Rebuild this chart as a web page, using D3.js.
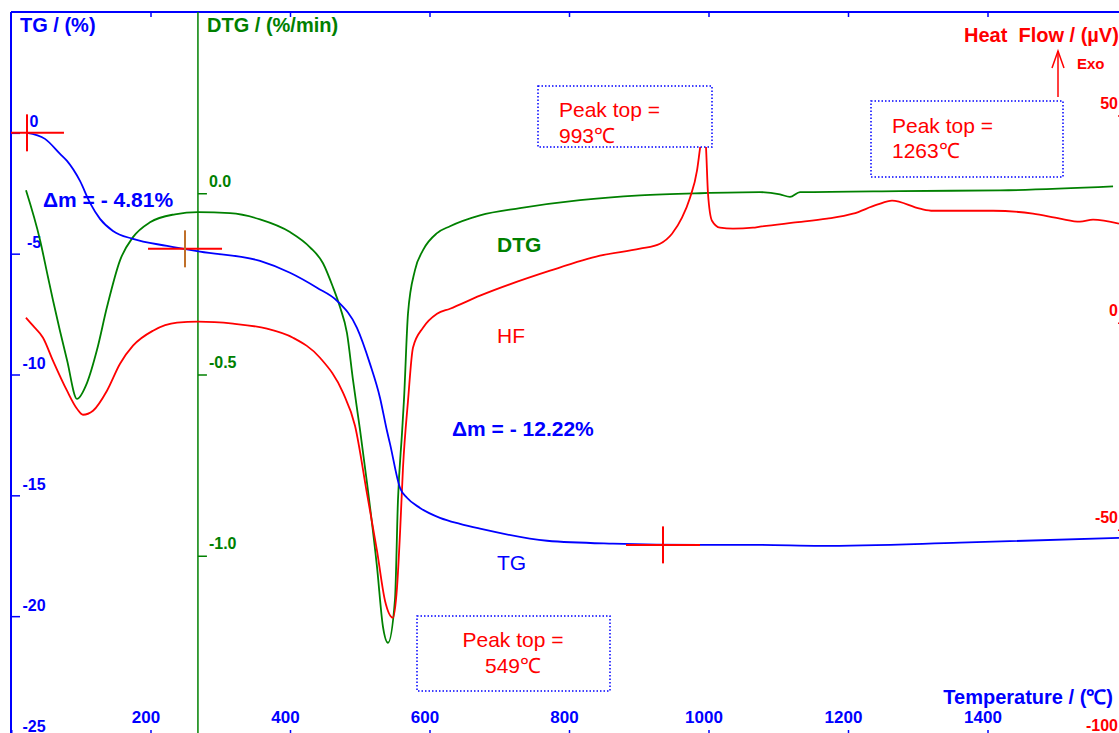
<!DOCTYPE html>
<html>
<head>
<meta charset="utf-8">
<script src="https://cdn.jsdelivr.net/npm/d3@7"></script>
<style>
  html, body { margin: 0; padding: 0; background: #fff; }
  svg { display: block; font-family: "Liberation Sans", Arial, sans-serif; }
</style>
</head>
<body>
<svg id="chart" width="1119" height="733"></svg>
<script>
// ---------- data ----------
const tgTemp = [22.9, 48.7, 70.3, 80.3, 98.9, 113.3, 127.6, 146.2, 174.9, 223.7, 271, 357, 400, 438.7, 467.4, 496, 514.7, 529, 539, 543.4, 557.7, 567.7, 586.4, 615, 643.7, 672.4, 768.5, 863, 987.8, 1073.8, 1159.9, 1360.6, 1588.5];
const tgValue = [0, -0.25, -0.87, -1.16, -1.99, -2.90, -3.56, -4.06, -4.39, -4.68, -4.92, -5.30, -5.79, -6.41, -6.95, -8.07, -9.56, -10.96, -12.33, -12.87, -14.69, -15.10, -15.52, -15.93, -16.18, -16.38, -16.88, -17.00, -17.05, -17.05, -17.09, -16.96, -16.76];

const dtgTemp = [21.5, 41.6, 53, 60.2, 80.3, 94.6, 109, 123.3, 137.6, 156.3, 174.9, 199.3, 235.1, 268.1, 314, 357, 400, 428.7, 447.3, 461.6, 471.7, 481.7, 490.3, 500.4, 510.4, 524.7, 533.3, 540.5, 550.5, 554.8, 560.6, 563.4, 569.2, 579.2, 590.7, 610.8, 629.4, 672.4, 729.7, 815.8, 901.8, 987.8, 1073.8, 1102.5, 1116.8, 1131.2, 1274.6, 1417.9, 1580];
const dtgValue = [0.008, -0.129, -0.231, -0.295, -0.46, -0.567, -0.523, -0.432, -0.314, -0.185, -0.121, -0.080, -0.058, -0.052, -0.055, -0.072, -0.107, -0.149, -0.193, -0.259, -0.314, -0.386, -0.515, -0.653, -0.799, -1.030, -1.196, -1.240, -1.121, -0.846, -0.661, -0.570, -0.331, -0.212, -0.157, -0.110, -0.091, -0.061, -0.041, -0.019, -0.006, 0.0, 0.003, -0.003, -0.010, 0.003, 0.006, 0.008, 0.019];

const hfTemp = [21.5, 31.5, 45.9, 60.2, 80.3, 94.6, 103.2, 117.6, 137.6, 156.3, 174.9, 203.6, 238, 268.1, 318.3, 367, 404.3, 443, 476, 493.2, 510.4, 524.7, 536.2, 547.7, 553.4, 557.7, 562, 569.2, 576.3, 590.7, 610.8, 629.4, 672.4, 772.8, 844.4, 901.8, 930.5, 947.7, 962, 973.5, 983.5, 987.8, 993.5, 996.4, 999.3, 1005, 1016.5, 1035.1, 1063.8, 1073.8, 1121.1, 1169.9, 1207.2, 1241.6, 1263.1, 1303.2, 1321.9, 1407.9, 1465.2, 1504, 1532.6, 1551.3, 1588.5];
const hfValue = [1.21, -0.72, -3.62, -9.17, -16.41, -20.76, -22.21, -21.24, -16.41, -9.9, -5.55, -1.93, 0, 0.24, -0.24, -1.45, -3.62, -8.45, -16.9, -24.86, -41.27, -55.03, -67.1, -71.2, -63.96, -50.93, -35.0, -18.83, -6.03, -1.21, 2.17, 3.38, 6.52, 12.55, 16.17, 17.86, 19.07, 21.48, 25.34, 30.17, 36.69, 42.0, 48.76, 42.48, 31.14, 24.62, 22.93, 22.69, 22.93, 23.17, 24.14, 25.1, 26.31, 28.48, 29.45, 27.52, 27.03, 27.03, 26.31, 25.1, 24.38, 24.86, 23.9];

const tempTicks = [200, 400, 600, 800, 1000, 1200, 1400];
const tgTicks = [0, -5, -10, -15, -20, -25];
const dtgTicks = [0.0, -0.5, -1.0];
const hfTicks = [50, 0, -50, -100];

// step marks (crosses) on the TG curve: [temperature, TG]
const crossTemp = [22.9, 249.5, 934.8];
const crossTG = [0, -4.80, -17.05];

const peakLabels = ["993℃", "1263℃", "549℃"];
const massLabels = ["Δm = - 4.81%", "Δm = - 12.22%"];

// ---------- layout ----------
const W = 1119, H = 733;
const L = 11, R = 1127, T = 12, B = 737;
const BLUE = "#0000ff", GREEN = "#008000", RED = "#ff0000";
const FONT = "Liberation Sans, Arial, sans-serif";

const svg = d3.select("#chart");
svg.append("rect").attr("width", W).attr("height", H).attr("fill", "#fff");

const x = d3.scaleLinear().domain([0, 1600]).range([L, R]);
const yTG = d3.scaleLinear().domain([-25, 5]).range([B, T]);
const yDTG = d3.scaleLinear().domain([-1.5, 0.5]).range([B, T]);
const yHF = d3.scaleLinear().domain([-100, 75]).range([B, T]);
const dtgAxisTemp = 268;

const fmtInt = d => String(d);
const fmt1 = d => d.toFixed(1);

svg.append("defs").append("clipPath").attr("id", "plot")
  .append("rect").attr("x", L).attr("y", T).attr("width", R - L).attr("height", B - T);

// frame: top line
svg.append("line").attr("x1", L).attr("x2", R).attr("y1", T).attr("y2", T)
  .attr("stroke", BLUE).attr("stroke-width", 2);

// top ticks
svg.append("g").attr("transform", `translate(0,${T})`)
  .call(d3.axisBottom(x).tickValues(tempTicks).tickSize(5).tickFormat(""))
  .call(g => g.select(".domain").remove())
  .call(g => g.selectAll("line").attr("stroke", BLUE).attr("stroke-width", 1.5));

// bottom axis
svg.append("g").attr("transform", `translate(0,${B})`)
  .call(d3.axisTop(x).tickValues(tempTicks).tickSize(7).tickFormat(fmtInt))
  .call(g => g.select(".domain").attr("stroke", BLUE).attr("stroke-width", 2))
  .call(g => g.selectAll("line").attr("stroke", BLUE).attr("stroke-width", 1.5))
  .call(g => g.selectAll("text").attr("fill", BLUE).attr("font-size", 17).attr("font-weight", "bold")
     .attr("font-family", FONT)
     .attr("y", -14).attr("dy", 0).attr("dx", -5).attr("text-anchor", "middle"));

// left TG axis
svg.append("g").attr("transform", `translate(${L},0)`)
  .call(d3.axisRight(yTG).tickValues(tgTicks).tickSize(9).tickFormat(fmtInt))
  .call(g => g.select(".domain").attr("stroke", BLUE).attr("stroke-width", 2).attr("d", `M0,${T}V${B}`))
  .call(g => g.selectAll("line").attr("stroke", BLUE).attr("stroke-width", 1.5))
  .call(g => g.selectAll("text").attr("fill", BLUE).attr("font-size", 16).attr("font-weight", "bold")
     .attr("font-family", FONT)
     .attr("x", 23).attr("y", -6).attr("dy", 0).attr("text-anchor", "middle"));

// DTG axis
svg.append("g").attr("transform", `translate(${x(dtgAxisTemp)},0)`)
  .call(d3.axisRight(yDTG).tickValues(dtgTicks).tickSize(9).tickFormat(fmt1))
  .call(g => g.select(".domain").attr("stroke", GREEN).attr("stroke-width", 1.5).attr("d", `M0,${T}V${B}`))
  .call(g => g.selectAll("line").attr("stroke", GREEN).attr("stroke-width", 1.5))
  .call(g => g.selectAll("text").attr("fill", GREEN).attr("font-size", 16).attr("font-weight", "bold")
     .attr("font-family", FONT)
     .attr("x", 11).attr("y", -7).attr("dy", 0).attr("text-anchor", "start"));

// HF axis (right, partly outside the frame)
svg.append("g").attr("transform", `translate(${R},0)`)
  .call(d3.axisLeft(yHF).tickValues(hfTicks).tickSize(9).tickFormat(fmtInt))
  .call(g => g.select(".domain").attr("stroke", RED).attr("stroke-width", 1.5).attr("d", `M0,${T}V${B}`))
  .call(g => g.selectAll("line").attr("stroke", RED).attr("stroke-width", 1.5))
  .call(g => g.selectAll("text").attr("fill", RED).attr("font-size", 16).attr("font-weight", "bold")
     .attr("font-family", FONT)
     .attr("x", -9).attr("y", -7).attr("dy", 0).attr("text-anchor", "end"));

// ---------- curves ----------
const plot = svg.append("g").attr("clip-path", "url(#plot)");
function series(ts, vs) { return ts.map((t, i) => [t, vs[i]]); }

const lineTG = d3.line().x(d => x(d[0])).y(d => yTG(d[1])).curve(d3.curveMonotoneX);
const lineDTG = d3.line().x(d => x(d[0])).y(d => yDTG(d[1])).curve(d3.curveMonotoneX);
const lineHF = d3.line().x(d => x(d[0])).y(d => yHF(d[1])).curve(d3.curveMonotoneX);

plot.append("path").attr("d", lineDTG(series(dtgTemp, dtgValue)))
  .attr("fill", "none").attr("stroke", GREEN).attr("stroke-width", 1.8);
plot.append("path").attr("d", lineHF(series(hfTemp, hfValue)))
  .attr("fill", "none").attr("stroke", RED).attr("stroke-width", 1.8);
plot.append("path").attr("d", lineTG(series(tgTemp, tgValue)))
  .attr("fill", "none").attr("stroke", BLUE).attr("stroke-width", 1.8);

// crosses
crossTemp.forEach((t, i) => {
  const cx = x(t), cy = yTG(crossTG[i]);
  plot.append("line").attr("x1", cx - 37).attr("x2", cx + 37).attr("y1", cy).attr("y2", cy)
    .attr("stroke", RED).attr("stroke-width", 2);
  plot.append("line").attr("x1", cx).attr("x2", cx).attr("y1", cy - 18.5).attr("y2", cy + 18.5)
    .attr("stroke", i === 1 ? "#c0702a" : RED).attr("stroke-width", 2);
});

// ---------- peak boxes ----------
const boxes = [
  { x: 538, y: 86, w: 174, h: 61, tx: 559, anchor: "start", l1: 117, l2: 143 },
  { x: 871, y: 101, w: 192, h: 76, tx: 892, anchor: "start", l1: 133, l2: 158 },
  { x: 417, y: 616, w: 193, h: 75, tx: 513, anchor: "middle", l1: 647, l2: 673 }
];
boxes.forEach((b, i) => {
  svg.append("rect").attr("x", b.x).attr("y", b.y).attr("width", b.w).attr("height", b.h)
    .attr("fill", "#fff").attr("stroke", BLUE).attr("stroke-width", 1.5)
    .attr("stroke-dasharray", "1.5,2");
  svg.append("text").attr("x", b.tx).attr("y", b.l1).attr("text-anchor", b.anchor)
    .attr("fill", RED).attr("font-size", 21).text("Peak top =");
  svg.append("text").attr("x", b.tx).attr("y", b.l2).attr("text-anchor", b.anchor)
    .attr("fill", RED).attr("font-size", 21).text(peakLabels[i]);
});

// ---------- texts ----------
svg.append("text").attr("x", 20).attr("y", 32).attr("fill", BLUE).attr("font-size", 20)
  .attr("font-weight", "bold").text("TG / (%)");
svg.append("text").attr("x", 207).attr("y", 32).attr("fill", GREEN).attr("font-size", 20)
  .attr("font-weight", "bold").text("DTG / (%/min)");
svg.append("text").attr("x", 964).attr("y", 42).attr("fill", RED).attr("font-size", 20)
  .attr("font-weight", "bold").style("white-space", "pre")
  .text("Heat  Flow / (µV)");
svg.append("text").attr("x", 1077).attr("y", 69).attr("fill", RED).attr("font-size", 15)
  .attr("font-weight", "bold").text("Exo");
// exo arrow
svg.append("line").attr("x1", 1058).attr("x2", 1058).attr("y1", 97).attr("y2", 51)
  .attr("stroke", RED).attr("stroke-width", 1.5);
svg.append("path").attr("d", "M1052,68L1058,51L1064,68").attr("fill", "none")
  .attr("stroke", RED).attr("stroke-width", 1.5);

svg.append("text").attr("x", 1113).attr("y", 704).attr("text-anchor", "end").attr("fill", BLUE)
  .attr("font-size", 20).attr("font-weight", "bold").text("Temperature / (℃)");

svg.append("text").attr("x", 43).attr("y", 207).attr("fill", BLUE).attr("font-size", 21)
  .attr("font-weight", "bold").text(massLabels[0]);
svg.append("text").attr("x", 452).attr("y", 436).attr("fill", BLUE).attr("font-size", 21)
  .attr("font-weight", "bold").text(massLabels[1]);

svg.append("text").attr("x", 497).attr("y", 252).attr("fill", GREEN).attr("font-size", 21)
  .attr("font-weight", "bold").text("DTG");
svg.append("text").attr("x", 497).attr("y", 343).attr("fill", RED).attr("font-size", 21).text("HF");
svg.append("text").attr("x", 497).attr("y", 570).attr("fill", BLUE).attr("font-size", 21).text("TG");
</script>
</body>
</html>
